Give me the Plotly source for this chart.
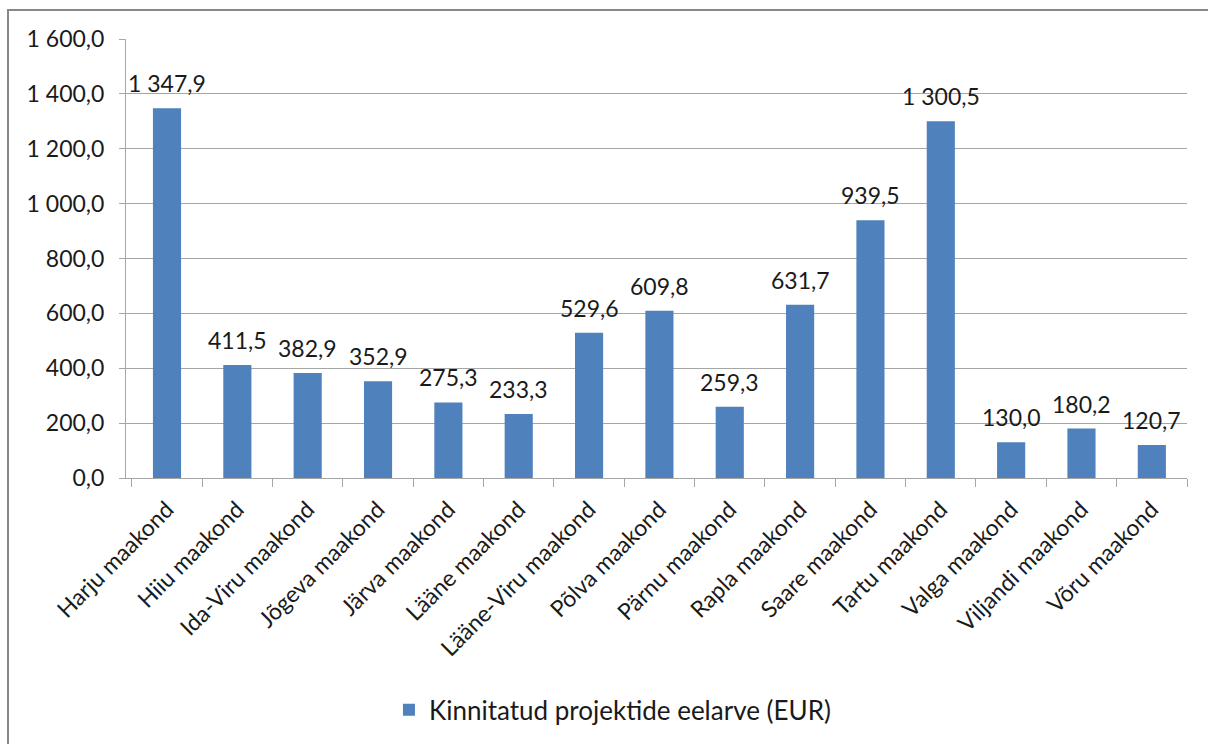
import plotly.graph_objects as go

categories = ["Harju maakond", "Hiiu maakond", "Ida-Viru maakond", "Jõgeva maakond",
              "Järva maakond", "Lääne maakond", "Lääne-Viru maakond", "Põlva maakond",
              "Pärnu maakond", "Rapla maakond", "Saare maakond", "Tartu maakond",
              "Valga maakond", "Viljandi maakond", "Võru maakond"]
values = [1347.9, 411.5, 382.9, 352.9, 275.3, 233.3, 529.6, 609.8, 259.3, 631.7,
          939.5, 1300.5, 130.0, 180.2, 120.7]
series_name = "Kinnitatud projektide eelarve (EUR)"

W, H = 1208, 744
ML, MR, MT, MB = 126, 21, 39, 266
FONT = "Lato, Open Sans, sans-serif"
TXT = "#1a1a1a"
FS = 23

fig = go.Figure()
fig.add_trace(go.Bar(
    x=categories, y=values, name=series_name,
    marker=dict(color="#4F81BD", line=dict(width=0)),
    width=0.4,
))

for c, v in zip(categories, values):
    fig.add_annotation(x=c, y=v, text=f"{v:,.1f}".replace(",", " ").replace(".", ","),
                       showarrow=False, yanchor="bottom", yshift=9,
                       font=dict(family=FONT, size=FS, color=TXT))

pw = W - ML - MR
ph = H - MT - MB
x0 = (8 - ML) / pw
x1 = (1230 - ML) / pw
y1 = (H - MB - 10) / ph
y0 = (H - MB - 770) / ph
fig.add_shape(type="rect", xref="paper", yref="paper", x0=x0, x1=x1, y0=y0, y1=y1,
              line=dict(color="#888888", width=2), layer="below")

fig.update_layout(
    width=W, height=H,
    margin=dict(l=ML, r=MR, t=MT, b=MB),
    paper_bgcolor="white", plot_bgcolor="white",
    separators=", ",
    font=dict(family=FONT, size=FS, color=TXT),
    showlegend=True,
    legend=dict(orientation="h", xref="container", yref="container",
                x=0.507, y=0.046, xanchor="center", yanchor="middle",
                font=dict(family=FONT, size=26, color=TXT)),
    bargap=0.6,
)
fig.update_yaxes(range=[0, 1600], dtick=200, tickformat=",.1f",
                 showgrid=True, gridcolor="#A6A6A6", gridwidth=1,
                 showline=True, linecolor="#A6A6A6", linewidth=1,
                 ticks="outside", ticklen=6, tickcolor="#A6A6A6",
                 ticklabelstandoff=10,
                 zeroline=False, tickfont=dict(size=FS, color=TXT))
fig.update_xaxes(tickangle=-45, showline=True, linecolor="#A6A6A6", linewidth=1,
                 ticks="outside", ticklen=8, tickcolor="#A6A6A6", tickson="boundaries",
                 ticklabelstandoff=8,
                 showgrid=False, tickfont=dict(size=FS, color=TXT))

fig.write_html("out.html", config={"displayModeBar": False},
               post_script="document.body.style.margin='0';document.body.style.overflow='hidden';")
